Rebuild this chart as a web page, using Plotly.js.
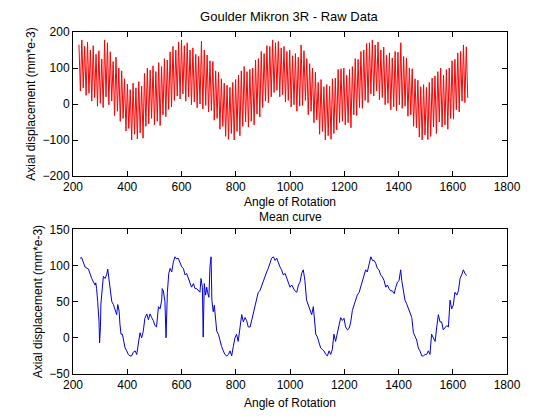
<!DOCTYPE html>
<html>
<head>
<meta charset="utf-8">
<script src="https://cdn.plot.ly/plotly-3.0.1.min.js"></script>
<style>html,body{margin:0;padding:0;background:#fff;}#chart{width:560px;height:420px;}</style>
</head>
<body>
<div id="chart"></div>
<script>
// Raw data: alternating high / low readings, evenly spaced in angle
var rawStartAngle = 222;
var rawAngleStep = 5.25;
var rawValues = [
165,36, 178,45, 160,24, 172,30, 150,8, 162,18, 138,-6, 148,2, 125,-10, 178,20,
170,-2, 145,8, 118,-32, 130,-20, 100,-48, 92,-40, 70,-75, 55,-68, 40,-100, 58,-84,
45,-97, 62,-80, 50,-95, 85,-62, 100,-55, 94,-40, 106,-58, 90,-48, 115,-60, 104,-30,
126,-35, 122,-15, 145,-8, 160,10, 150,22, 172,14, 178,28, 162,8, 170,20, 150,-2,
156,6, 138,-10, 132,0, 174,-14, 150,-4, 136,-22, 120,-18, 118,-45, 92,-40, 88,-70,
70,-62, 58,-90, 52,-98, 46,-82, 60,-100, 68,-76, 80,-88, 92,-62, 104,-50, 90,-64,
96,-48, 100,-58, 122,-28, 126,-36, 146,-10, 140,8, 162,4, 160,20, 178,32, 170,38,
174,20, 156,26, 160,6, 146,10, 150,-8, 134,-2, 140,-20, 130,-6, 164,-4, 148,10,
126,-30, 112,-20, 100,-52, 88,-44, 60,-84, 68,-76, 48,-100, 54,-88, 50,-98, 70,-82,
72,-72, 96,-52, 98,-48, 100,-58, 80,-52, 96,-66, 104,-30, 126,-32, 124,-10, 146,-12,
150,10, 168,4, 170,28, 178,22, 164,36, 172,12, 150,18, 158,-2, 136,2, 142,-16,
128,-8, 146,-18, 144,-2, 170,-12, 132,-6, 128,-34, 100,-30, 98,-62, 70,-66, 66,-92,
48,-100, 54,-86, 46,-99, 60,-90, 72,-64, 78,-82, 90,-50, 100,-64, 80,-58, 96,-70,
100,-40, 120,-42, 124,-16, 142,-22, 146,8, 164,4, 159,17
];

// Mean curve
var meanAngle = [
226,232,244,257,269,281,284,287,291,296,298,301,303,308,312,318,324,328,333,336,
343,349,355,361,365,370,373,377,382,386,392,398,404,410,416,422,429,435,441,447,
453,459,465,472,478,484,490,496,502,508,515,521,527,529,533,539,543,548,553,558,
564,570,576,582,588,594,601,607,613,619,625,631,637,644,650,656,662,668,672,677,
680,684,689,693,696,701,705,709,712,717,721,726,730,736,742,748,754,760,767,773,
779,785,791,797,803,809,816,822,828,834,840,846,853,859,865,871,877,883,889,896,
902,908,914,920,926,932,939,945,951,957,963,969,975,982,988,994,1000,1006,1012,1018,
1025,1031,1037,1043,1049,1055,1061,1068,1074,1080,1086,1090,1095,1101,1107,1113,1119,1125,1132,1138,
1144,1150,1156,1162,1168,1175,1181,1187,1193,1199,1205,1212,1218,1224,1230,1236,1242,1248,1255,1261,
1267,1273,1279,1285,1291,1298,1304,1310,1316,1322,1328,1334,1341,1347,1353,1359,1365,1371,1377,1384,
1390,1396,1402,1408,1412,1418,1424,1430,1436,1443,1449,1455,1461,1467,1473,1479,1486,1492,1498,1504,
1510,1516,1522,1529,1535,1541,1547,1553,1559,1565,1572,1578,1584,1590,1596,1602,1608,1615,1621,1627,
1633,1639,1645,1651
];
var meanValue = [
110,111,98,95,82,73,76,68,50,22,-7,14,48,64,85,82,87,95,78,67,
50,46,39,32,46,37,19,5,5,-5,-14,-18,-23,-25,-25,-20,-18,-23,-7,7,
0,9,27,33,25,33,28,24,17,15,43,40,52,68,65,50,0,63,89,96,
91,105,112,109,110,103,98,96,87,89,82,75,70,75,68,68,65,63,82,70,
1,75,59,70,63,56,98,112,52,36,45,24,9,5,-5,-12,-18,-23,-25,-23,
-18,-25,-12,0,5,-5,15,32,22,28,24,15,15,24,36,45,52,63,65,73,
79,87,91,96,103,110,112,107,110,103,98,94,87,89,82,75,70,73,68,65,
63,73,77,89,94,79,52,45,40,32,43,24,5,1,-7,-14,-16,-18,-23,-25,
-18,-23,-16,5,-5,9,20,28,24,27,15,11,13,22,38,45,50,59,63,70,
79,87,94,91,103,112,107,107,103,96,94,87,84,79,70,73,68,65,65,61,
70,77,79,94,79,63,52,47,40,32,28,7,1,-3,-14,-18,-25,-25,-23,-23,
-18,-23,5,0,-5,15,32,22,22,11,15,17,15,52,40,45,63,59,65,82,
87,94,89,86
];

var xTicks = [200,400,600,800,1000,1200,1400,1600,1800];
var topYTicks = [-200,-100,0,100,200];
var botYTicks = [-50,0,50,100,150];

var fontFam = 'Arial, "Liberation Sans", sans-serif';
var axisCommon = {
  showgrid: false, zeroline: false, showline: true, linecolor: '#000', linewidth: 1,
  mirror: 'ticks', ticks: 'inside', ticklen: 5, tickcolor: '#000', tickwidth: 1,
  tickfont: {family: fontFam, size: 12, color: '#000'}, automargin: false
};
function ax(extra) { return Object.assign({}, axisCommon, extra); }

var traces = [
  {type: 'scatter', mode: 'lines', x0: rawStartAngle, dx: rawAngleStep, y: rawValues,
   line: {color: '#ff0000', width: 1}, xaxis: 'x', yaxis: 'y', hoverinfo: 'skip'},
  {type: 'scatter', mode: 'lines', x: meanAngle, y: meanValue,
   line: {color: '#0000e0', width: 1}, xaxis: 'x2', yaxis: 'y2', hoverinfo: 'skip'}
];

var layout = {
  width: 560, height: 420, paper_bgcolor: '#fff', plot_bgcolor: '#fff',
  showlegend: false,
  margin: {l: 73, r: 53, t: 32, b: 46, pad: 0},
  font: {family: fontFam, size: 12, color: '#000'},
  title: {text: 'Goulder Mikron 3R - Raw Data', font: {family: fontFam, size: 13, color: '#000'},
          x: 0.516, xanchor: 'center', y: 0.96, yanchor: 'middle'},
  xaxis: ax({domain: [0, 1], anchor: 'y', range: [200, 1800], tickvals: xTicks,
             title: {text: 'Angle of Rotation', standoff: 4, font: {family: fontFam, size: 12, color: '#000'}}}),
  yaxis: ax({domain: [0.5789, 1], anchor: 'x', range: [-200, 200], tickvals: topYTicks,
             title: {text: 'Axial displacement (mm*e-3)', standoff: 4, font: {family: fontFam, size: 12, color: '#000'}}}),
  xaxis2: ax({domain: [0, 1], anchor: 'y2', range: [200, 1800], tickvals: xTicks,
             title: {text: 'Angle of Rotation', standoff: 7, font: {family: fontFam, size: 12, color: '#000'}}}),
  yaxis2: ax({domain: [0, 0.4231], anchor: 'x2', range: [-50, 150], tickvals: botYTicks,
             title: {text: 'Axial displacement (mm*e-3)', standoff: 4, font: {family: fontFam, size: 12, color: '#000'}}}),
  annotations: [
    {text: 'Mean curve', xref: 'paper', yref: 'paper', x: 0.5, y: 0.4231, yshift: 12,
     xanchor: 'center', yanchor: 'middle', showarrow: false,
     font: {family: fontFam, size: 12, color: '#000'}}
  ]
};

Plotly.newPlot('chart', traces, layout, {staticPlot: true, displayModeBar: false});
</script>
</body>
</html>
